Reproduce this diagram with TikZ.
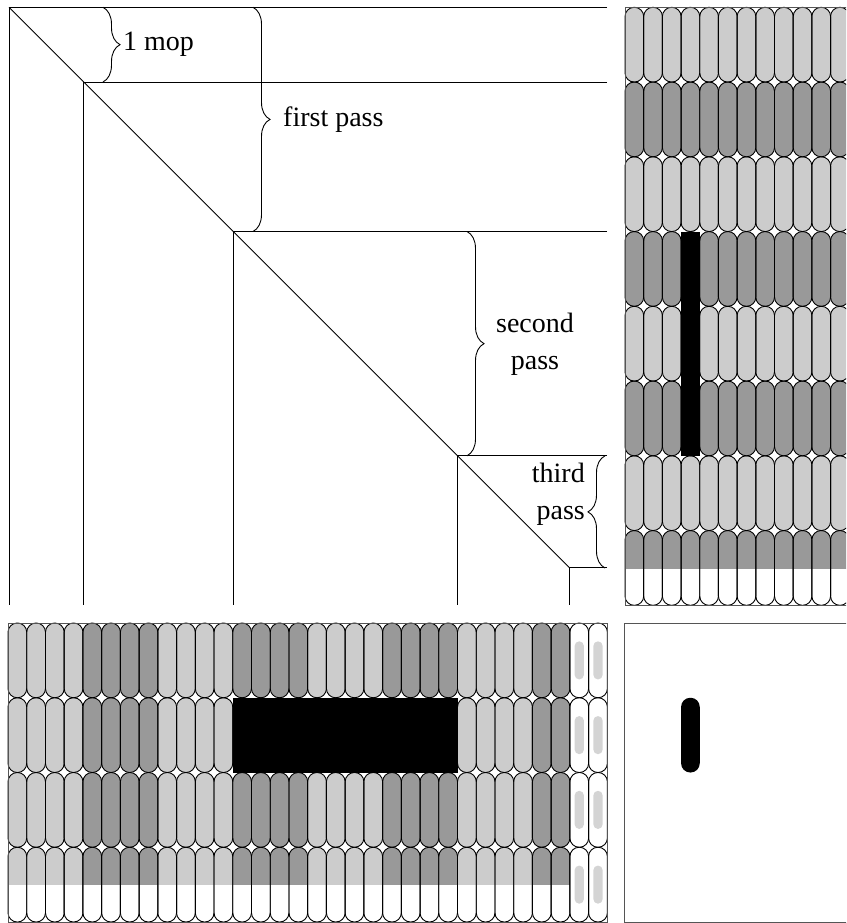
\documentclass[tikz,border=0pt]{standalone}
\usepackage{fontspec}
\setmainfont{Liberation Serif}
\usetikzlibrary{decorations.pathreplacing}
\definecolor{lightcap}{HTML}{CCCCCC}
\definecolor{darkcap}{HTML}{999999}
\definecolor{ghostcap}{HTML}{D4D4D4}
\definecolor{framegray}{HTML}{555555}
\begin{document}
\begin{tikzpicture}[x=1pt,y=-1pt,
  thinline/.style={line width=0.9pt, black},
  capout/.style={draw=black, line width=0.9pt, rounded corners=9.2pt},
  capfill/.style={rounded corners=9.2pt},
  ghost/.style={fill=ghostcap, rounded corners=4.4pt},
  panelframe/.style={draw=framegray, line width=1pt},
  passbrace/.style={decorate, decoration={brace, amplitude=17pt}, line width=0.9pt},
  lbl/.style={font=\fontsize{28}{37}\selectfont, inner sep=0pt}]
\useasboundingbox (0,0) rectangle (846,923);
\clip (0,0) rectangle (846,923);
\def\U{74.75}
\def\W{18.6875}
\def\Wb{18.73}

% ---------------- top-left triangle diagram ----------------
\coordinate (o) at (9,7.3);
\coordinate (c1) at ({9+\U},{7.3+\U});
\coordinate (c3) at ({9+3*\U},{7.3+3*\U});
\coordinate (c6) at ({9+6*\U},{7.3+6*\U});
\coordinate (c7) at ({9+7.5*\U},{7.3+7.5*\U});
\coordinate (oR) at (607,7.3);
\coordinate (oB) at (9,605.3);
\draw[thinline] (oR) -- (o) -- (oB);
\draw[thinline] (o) -- (c7);
\foreach \p in {c1,c3,c6,c7}{
  \draw[thinline] (oR |- \p) -- (\p) -- (\p |- oB);
}

% braces and labels
\coordinate (b1a) at (103,7.3);   \coordinate (b1b) at (103,82);
\coordinate (b2a) at (253,7.3);   \coordinate (b2b) at (253,231.5);
\coordinate (b3a) at (467,231.5); \coordinate (b3b) at (467,455.8);
\coordinate (b4a) at (605,568);   \coordinate (b4b) at (605,455.8);
\draw[passbrace] (b1a) -- (b1b);
\draw[passbrace] (b2a) -- (b2b);
\draw[passbrace] (b3a) -- (b3b);
\draw[passbrace] (b4a) -- (b4b);
\node[lbl, anchor=west] (mop) at (123,44) {1 mop};
\node[lbl, anchor=west] (first) at (283,120) {first pass};
\node[lbl, align=center] (second) at (535,344) {second\\pass};
\node[lbl, align=right, anchor=east] (third) at (585,494) {third\\pass};

% ---------------- right panel ----------------
\begin{scope}
  \clip (625,7.3) rectangle (846,568);
  \foreach \r/\col in {0/lightcap,1/darkcap,2/lightcap,3/darkcap,4/lightcap,5/darkcap,6/lightcap,7/darkcap}
    \foreach \c in {0,...,12}
      \fill[\col, capfill] ({625+\c*\W},{7.3+\r*\U}) rectangle ++(\W,\U);
\end{scope}
\foreach \r in {0,...,7}
  \foreach \c in {0,...,12}
    \draw[capout] ({625+\c*\W},{7.3+\r*\U}) rectangle ++(\W,\U);
\fill[black] ({625+3*\W},{7.3+3*\U}) rectangle ++(\W,{3*\U});
\draw[panelframe] (625,7.3) rectangle (880,605.3);

% ---------------- bottom panel ----------------
\begin{scope}
  \clip (8,623) rectangle (608,884.6);
  \foreach \c/\col in {0/lightcap,1/lightcap,2/lightcap,3/lightcap,
                       4/darkcap,5/darkcap,6/darkcap,7/darkcap,
                       8/lightcap,9/lightcap,10/lightcap,11/lightcap,
                       12/darkcap,13/darkcap,14/darkcap,15/darkcap,
                       16/lightcap,17/lightcap,18/lightcap,19/lightcap,
                       20/darkcap,21/darkcap,22/darkcap,23/darkcap,
                       24/lightcap,25/lightcap,26/lightcap,27/lightcap,
                       28/darkcap,29/darkcap}
    \foreach \r in {0,...,3}
      \fill[\col, capfill] ({8+\c*\Wb},{623+\r*\U}) rectangle ++(\Wb,\U);
\end{scope}
\foreach \r in {0,...,3}{
  \foreach \c in {0,...,31}
    \draw[capout] ({8+\c*\Wb},{623+\r*\U}) rectangle ++(\Wb,\U);
  \foreach \c in {30,31}
    \fill[ghost] ({8+\c*\Wb+\Wb/2-4.6},{623+\r*\U+\U/2-19}) rectangle ++(9.2,38);
}
\fill[black] ({8+12*\Wb},{623+\U}) rectangle ++({12*\Wb},\U);
\draw[panelframe] (8,623) rectangle (607.3,922);

% ---------------- bottom-right panel ----------------
\draw[panelframe] (624,623) rectangle (880,922);
\fill[black, rounded corners=9.2pt] ({625+3*\W},{623+\U}) rectangle ++(\W,\U);
\end{tikzpicture}
\end{document}
